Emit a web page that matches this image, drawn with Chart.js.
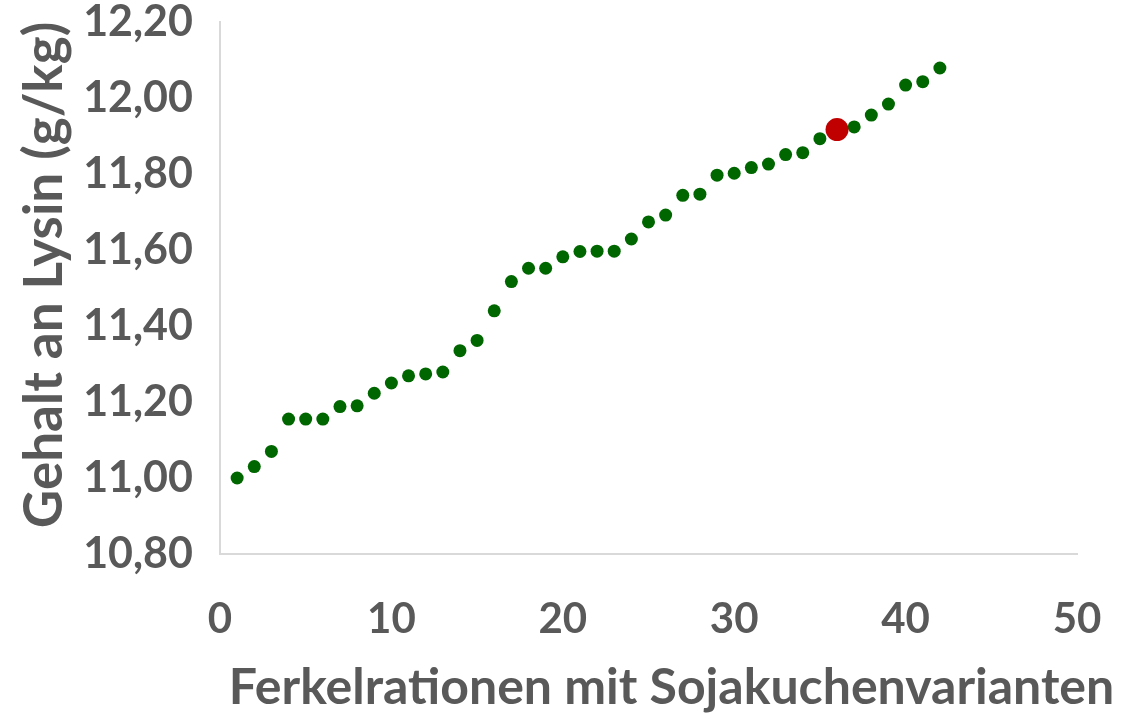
<!DOCTYPE html>
<html>
<head>
<meta charset="utf-8">
<script src="https://cdn.jsdelivr.net/npm/chart.js@4"></script>
<style>
  body { margin: 0; background: #fff; }
  #wrap { width: 1142px; height: 713px; }
</style>
</head>
<body>
<div id="wrap"><canvas id="chart" width="1142" height="713"></canvas></div>
<script>
// ration number (x) and lysine content in g/kg (y)
const rationNo = [1, 2, 3, 4, 5, 6, 7, 8, 9, 10, 11, 12, 13, 14, 15, 16, 17, 18, 19, 20, 21,
                  22, 23, 24, 25, 26, 27, 28, 29, 30, 31, 32, 33, 34, 35, 36, 37, 38, 39, 40, 41, 42];
const lysin = [11.00, 11.03, 11.07, 11.155, 11.155, 11.155, 11.188, 11.19, 11.223, 11.25, 11.269,
               11.274, 11.279, 11.335, 11.362, 11.44, 11.517, 11.552, 11.552, 11.582, 11.596,
               11.597, 11.597, 11.629, 11.674, 11.692, 11.744, 11.747, 11.797, 11.802, 11.817,
               11.826, 11.851, 11.856, 11.893, 11.917, 11.924, 11.955, 11.984, 12.034, 12.043, 12.079];

// highlighted ration (red marker)
const highlightX = [36];
const highlightY = [11.917];

const xTitle = "Ferkelrationen mit Sojakuchenvarianten";
const yTitle = "Gehalt an Lysin (g/kg)";

const textColor = "#595959";
const axisColor = "#d9d9d9";
const fontFamily = "Lato, 'Open Sans', sans-serif";

const toPoints = (xs, ys) => xs.map((x, i) => ({ x: x, y: ys[i] }));

// axis titles drawn by hand so they sit where the original has them
const axisTitles = {
    id: "axisTitles",
    afterDraw(chart) {
        const ctx = chart.ctx;
        const area = chart.chartArea;
        ctx.save();
        ctx.fillStyle = textColor;
        ctx.textAlign = "center";
        ctx.textBaseline = "middle";

        ctx.font = "bold 50px " + fontFamily;
        ctx.fillText(xTitle, (area.left + area.right) / 2 + 23, 688);

        ctx.font = "bold 53px " + fontFamily;
        ctx.translate(45, (area.top + area.bottom) / 2 - 13);
        ctx.rotate(-Math.PI / 2);
        ctx.fillText(yTitle, 0, 0);
        ctx.restore();
    }
};

new Chart(document.getElementById("chart"), {
    type: "scatter",
    data: {
        datasets: [
            {
                data: toPoints(highlightX, highlightY),
                backgroundColor: "#c00000",
                borderWidth: 0,
                pointRadius: 11.5
            },
            {
                data: toPoints(rationNo, lysin),
                backgroundColor: "#006600",
                borderWidth: 0,
                pointRadius: 6.5
            }
        ]
    },
    plugins: [axisTitles],
    options: {
        responsive: false,
        animation: false,
        layout: { padding: { top: 22, right: 65, left: 0, bottom: 0 } },
        plugins: {
            legend: { display: false },
            tooltip: { enabled: false }
        },
        scales: {
            x: {
                type: "linear",
                min: 0,
                max: 50,
                ticks: {
                    stepSize: 10,
                    padding: 40,
                    color: textColor,
                    font: { family: fontFamily, size: 42, weight: "bold" }
                },
                grid: { display: false, drawTicks: false },
                border: { display: true, color: axisColor, width: 2 },
                afterFit: scale => {
                    scale.height = 159;
                    scale.paddingLeft = 0;
                    scale.paddingRight = 0;
                }
            },
            y: {
                min: 10.8,
                max: 12.2,
                ticks: {
                    stepSize: 0.2,
                    padding: 27,
                    color: textColor,
                    font: { family: fontFamily, size: 43, weight: "bold" },
                    callback: v => v.toFixed(2).replace(".", ",")
                },
                grid: { display: false, drawTicks: false },
                border: { display: true, color: axisColor, width: 2 },
                afterFit: scale => {
                    scale.width = 220;
                    scale.paddingTop = 0;
                    scale.paddingBottom = 0;
                }
            }
        }
    }
});
</script>
</body>
</html>
